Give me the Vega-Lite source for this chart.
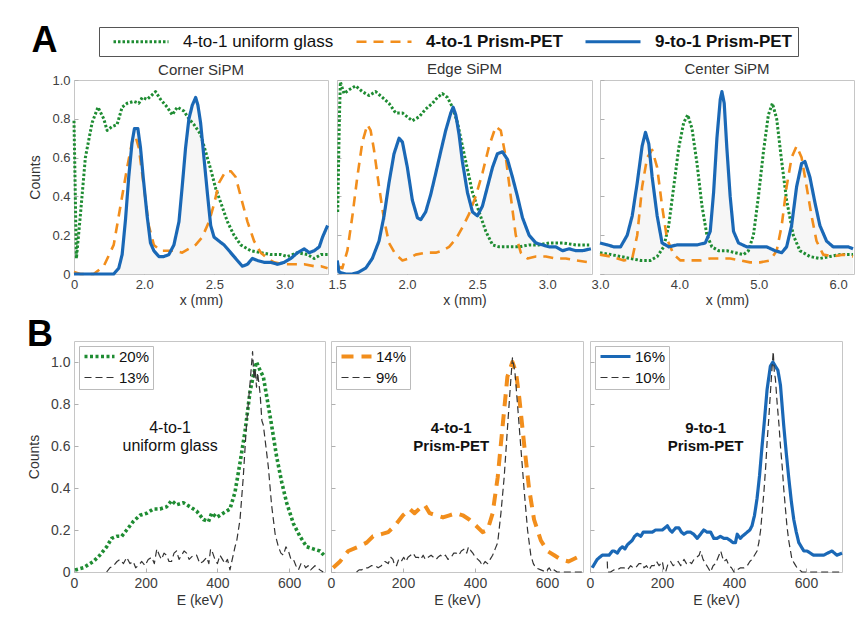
{
"$schema": "https://vega.github.io/schema/vega-lite/v6.json",
"background": "white",
"padding": {"left": 27, "top": 22, "right": 4, "bottom": 4},
"columns": 1,
"spacing": 8,
"config": {
  "font": "Liberation Sans",
  "view": {"stroke": "#c6c6c6"},
  "axis": {"grid": false, "domain": false, "tickColor": "#b0b0b0", "tickSize": -4, "labelColor": "#404040", "labelFontSize": 13, "titleFontSize": 14, "titleFontWeight": "normal", "titleColor": "#333333", "labelPadding": 8, "labelFlush": false, "labelOverlap": false},
  "title": {"fontSize": 15, "fontWeight": "normal", "color": "#333333", "offset": 3},
  "legend": {"title": null, "labelColor": "#111111", "labelLimit": 300},
  "line": {"strokeCap": "butt", "strokeJoin": "round"}
},
"resolve": {"scale": {"color": "independent", "strokeDash": "independent", "strokeWidth": "independent", "x": "independent", "y": "independent"}, "legend": {"color": "independent", "strokeDash": "independent", "strokeWidth": "independent"}, "axis": {"x": "independent", "y": "independent"}},
"datasets": {
"top": [
{"p":"corner","s":"4-to-1 uniform glass","x":1.500,"y":0.79},{"p":"corner","s":"4-to-1 uniform glass","x":1.507,"y":0.5},{"p":"corner","s":"4-to-1 uniform glass","x":1.517,"y":0.08},{"p":"corner","s":"4-to-1 uniform glass","x":1.545,"y":0.3},{"p":"corner","s":"4-to-1 uniform glass","x":1.581,"y":0.6},{"p":"corner","s":"4-to-1 uniform glass","x":1.629,"y":0.78},{"p":"corner","s":"4-to-1 uniform glass","x":1.671,"y":0.86},{"p":"corner","s":"4-to-1 uniform glass","x":1.712,"y":0.80},{"p":"corner","s":"4-to-1 uniform glass","x":1.736,"y":0.74},{"p":"corner","s":"4-to-1 uniform glass","x":1.771,"y":0.76},{"p":"corner","s":"4-to-1 uniform glass","x":1.807,"y":0.77},{"p":"corner","s":"4-to-1 uniform glass","x":1.843,"y":0.86},{"p":"corner","s":"4-to-1 uniform glass","x":1.879,"y":0.88},{"p":"corner","s":"4-to-1 uniform glass","x":1.926,"y":0.89},{"p":"corner","s":"4-to-1 uniform glass","x":1.962,"y":0.88},{"p":"corner","s":"4-to-1 uniform glass","x":1.986,"y":0.91},{"p":"corner","s":"4-to-1 uniform glass","x":2.021,"y":0.90},{"p":"corner","s":"4-to-1 uniform glass","x":2.081,"y":0.94},{"p":"corner","s":"4-to-1 uniform glass","x":2.117,"y":0.90},{"p":"corner","s":"4-to-1 uniform glass","x":2.164,"y":0.86},{"p":"corner","s":"4-to-1 uniform glass","x":2.200,"y":0.82},{"p":"corner","s":"4-to-1 uniform glass","x":2.236,"y":0.86},{"p":"corner","s":"4-to-1 uniform glass","x":2.283,"y":0.84},{"p":"corner","s":"4-to-1 uniform glass","x":2.319,"y":0.80},{"p":"corner","s":"4-to-1 uniform glass","x":2.355,"y":0.77},{"p":"corner","s":"4-to-1 uniform glass","x":2.402,"y":0.72},{"p":"corner","s":"4-to-1 uniform glass","x":2.438,"y":0.63},{"p":"corner","s":"4-to-1 uniform glass","x":2.474,"y":0.54},{"p":"corner","s":"4-to-1 uniform glass","x":2.510,"y":0.44},{"p":"corner","s":"4-to-1 uniform glass","x":2.545,"y":0.37},{"p":"corner","s":"4-to-1 uniform glass","x":2.593,"y":0.27},{"p":"corner","s":"4-to-1 uniform glass","x":2.640,"y":0.20},{"p":"corner","s":"4-to-1 uniform glass","x":2.688,"y":0.15},{"p":"corner","s":"4-to-1 uniform glass","x":2.760,"y":0.12},{"p":"corner","s":"4-to-1 uniform glass","x":2.831,"y":0.11},{"p":"corner","s":"4-to-1 uniform glass","x":2.902,"y":0.10},{"p":"corner","s":"4-to-1 uniform glass","x":2.974,"y":0.10},{"p":"corner","s":"4-to-1 uniform glass","x":3.021,"y":0.09},{"p":"corner","s":"4-to-1 uniform glass","x":3.093,"y":0.11},{"p":"corner","s":"4-to-1 uniform glass","x":3.164,"y":0.10},{"p":"corner","s":"4-to-1 uniform glass","x":3.212,"y":0.08},{"p":"corner","s":"4-to-1 uniform glass","x":3.260,"y":0.10},{"p":"corner","s":"4-to-1 uniform glass","x":3.307,"y":0.10},
{"p":"corner","s":"4-to-1 Prism-PET","x":1.500,"y":0.01},{"p":"corner","s":"4-to-1 Prism-PET","x":1.545,"y":0.0},{"p":"corner","s":"4-to-1 Prism-PET","x":1.640,"y":0.0},{"p":"corner","s":"4-to-1 Prism-PET","x":1.712,"y":0.04},{"p":"corner","s":"4-to-1 Prism-PET","x":1.783,"y":0.15},{"p":"corner","s":"4-to-1 Prism-PET","x":1.831,"y":0.35},{"p":"corner","s":"4-to-1 Prism-PET","x":1.879,"y":0.55},{"p":"corner","s":"4-to-1 Prism-PET","x":1.914,"y":0.68},{"p":"corner","s":"4-to-1 Prism-PET","x":1.938,"y":0.71},{"p":"corner","s":"4-to-1 Prism-PET","x":1.962,"y":0.65},{"p":"corner","s":"4-to-1 Prism-PET","x":1.998,"y":0.45},{"p":"corner","s":"4-to-1 Prism-PET","x":2.033,"y":0.25},{"p":"corner","s":"4-to-1 Prism-PET","x":2.069,"y":0.15},{"p":"corner","s":"4-to-1 Prism-PET","x":2.117,"y":0.12},{"p":"corner","s":"4-to-1 Prism-PET","x":2.164,"y":0.12},{"p":"corner","s":"4-to-1 Prism-PET","x":2.212,"y":0.12},{"p":"corner","s":"4-to-1 Prism-PET","x":2.271,"y":0.11},{"p":"corner","s":"4-to-1 Prism-PET","x":2.319,"y":0.13},{"p":"corner","s":"4-to-1 Prism-PET","x":2.367,"y":0.15},{"p":"corner","s":"4-to-1 Prism-PET","x":2.414,"y":0.19},{"p":"corner","s":"4-to-1 Prism-PET","x":2.462,"y":0.27},{"p":"corner","s":"4-to-1 Prism-PET","x":2.498,"y":0.36},{"p":"corner","s":"4-to-1 Prism-PET","x":2.533,"y":0.47},{"p":"corner","s":"4-to-1 Prism-PET","x":2.581,"y":0.53},{"p":"corner","s":"4-to-1 Prism-PET","x":2.617,"y":0.53},{"p":"corner","s":"4-to-1 Prism-PET","x":2.652,"y":0.50},{"p":"corner","s":"4-to-1 Prism-PET","x":2.688,"y":0.40},{"p":"corner","s":"4-to-1 Prism-PET","x":2.736,"y":0.27},{"p":"corner","s":"4-to-1 Prism-PET","x":2.783,"y":0.17},{"p":"corner","s":"4-to-1 Prism-PET","x":2.831,"y":0.11},{"p":"corner","s":"4-to-1 Prism-PET","x":2.879,"y":0.08},{"p":"corner","s":"4-to-1 Prism-PET","x":2.926,"y":0.06},{"p":"corner","s":"4-to-1 Prism-PET","x":2.998,"y":0.05},{"p":"corner","s":"4-to-1 Prism-PET","x":3.069,"y":0.05},{"p":"corner","s":"4-to-1 Prism-PET","x":3.140,"y":0.05},{"p":"corner","s":"4-to-1 Prism-PET","x":3.212,"y":0.04},{"p":"corner","s":"4-to-1 Prism-PET","x":3.260,"y":0.04},{"p":"corner","s":"4-to-1 Prism-PET","x":3.307,"y":0.03},
{"p":"corner","s":"9-to-1 Prism-PET","x":1.500,"y":0.0},{"p":"corner","s":"9-to-1 Prism-PET","x":1.783,"y":0.0},{"p":"corner","s":"9-to-1 Prism-PET","x":1.819,"y":0.03},{"p":"corner","s":"9-to-1 Prism-PET","x":1.843,"y":0.10},{"p":"corner","s":"9-to-1 Prism-PET","x":1.867,"y":0.28},{"p":"corner","s":"9-to-1 Prism-PET","x":1.890,"y":0.50},{"p":"corner","s":"9-to-1 Prism-PET","x":1.914,"y":0.68},{"p":"corner","s":"9-to-1 Prism-PET","x":1.931,"y":0.75},{"p":"corner","s":"9-to-1 Prism-PET","x":1.955,"y":0.75},{"p":"corner","s":"9-to-1 Prism-PET","x":1.974,"y":0.65},{"p":"corner","s":"9-to-1 Prism-PET","x":1.993,"y":0.50},{"p":"corner","s":"9-to-1 Prism-PET","x":2.021,"y":0.30},{"p":"corner","s":"9-to-1 Prism-PET","x":2.045,"y":0.16},{"p":"corner","s":"9-to-1 Prism-PET","x":2.069,"y":0.12},{"p":"corner","s":"9-to-1 Prism-PET","x":2.105,"y":0.09},{"p":"corner","s":"9-to-1 Prism-PET","x":2.140,"y":0.09},{"p":"corner","s":"9-to-1 Prism-PET","x":2.176,"y":0.10},{"p":"corner","s":"9-to-1 Prism-PET","x":2.212,"y":0.15},{"p":"corner","s":"9-to-1 Prism-PET","x":2.248,"y":0.27},{"p":"corner","s":"9-to-1 Prism-PET","x":2.271,"y":0.45},{"p":"corner","s":"9-to-1 Prism-PET","x":2.295,"y":0.65},{"p":"corner","s":"9-to-1 Prism-PET","x":2.319,"y":0.80},{"p":"corner","s":"9-to-1 Prism-PET","x":2.343,"y":0.87},{"p":"corner","s":"9-to-1 Prism-PET","x":2.367,"y":0.91},{"p":"corner","s":"9-to-1 Prism-PET","x":2.383,"y":0.87},{"p":"corner","s":"9-to-1 Prism-PET","x":2.402,"y":0.78},{"p":"corner","s":"9-to-1 Prism-PET","x":2.426,"y":0.60},{"p":"corner","s":"9-to-1 Prism-PET","x":2.450,"y":0.42},{"p":"corner","s":"9-to-1 Prism-PET","x":2.474,"y":0.25},{"p":"corner","s":"9-to-1 Prism-PET","x":2.498,"y":0.19},{"p":"corner","s":"9-to-1 Prism-PET","x":2.533,"y":0.17},{"p":"corner","s":"9-to-1 Prism-PET","x":2.569,"y":0.15},{"p":"corner","s":"9-to-1 Prism-PET","x":2.605,"y":0.12},{"p":"corner","s":"9-to-1 Prism-PET","x":2.640,"y":0.09},{"p":"corner","s":"9-to-1 Prism-PET","x":2.676,"y":0.06},{"p":"corner","s":"9-to-1 Prism-PET","x":2.700,"y":0.04},{"p":"corner","s":"9-to-1 Prism-PET","x":2.736,"y":0.05},{"p":"corner","s":"9-to-1 Prism-PET","x":2.771,"y":0.08},{"p":"corner","s":"9-to-1 Prism-PET","x":2.807,"y":0.07},{"p":"corner","s":"9-to-1 Prism-PET","x":2.855,"y":0.06},{"p":"corner","s":"9-to-1 Prism-PET","x":2.902,"y":0.06},{"p":"corner","s":"9-to-1 Prism-PET","x":2.950,"y":0.05},{"p":"corner","s":"9-to-1 Prism-PET","x":2.998,"y":0.06},{"p":"corner","s":"9-to-1 Prism-PET","x":3.045,"y":0.08},{"p":"corner","s":"9-to-1 Prism-PET","x":3.093,"y":0.11},{"p":"corner","s":"9-to-1 Prism-PET","x":3.140,"y":0.13},{"p":"corner","s":"9-to-1 Prism-PET","x":3.176,"y":0.11},{"p":"corner","s":"9-to-1 Prism-PET","x":3.212,"y":0.12},{"p":"corner","s":"9-to-1 Prism-PET","x":3.248,"y":0.14},{"p":"corner","s":"9-to-1 Prism-PET","x":3.271,"y":0.19},{"p":"corner","s":"9-to-1 Prism-PET","x":3.307,"y":0.25},
{"p":"edge","s":"4-to-1 uniform glass","x":1.505,"y":0.32},{"p":"edge","s":"4-to-1 uniform glass","x":1.517,"y":0.80},{"p":"edge","s":"4-to-1 uniform glass","x":1.524,"y":0.99},{"p":"edge","s":"4-to-1 uniform glass","x":1.550,"y":0.93},{"p":"edge","s":"4-to-1 uniform glass","x":1.586,"y":0.95},{"p":"edge","s":"4-to-1 uniform glass","x":1.633,"y":0.97},{"p":"edge","s":"4-to-1 uniform glass","x":1.681,"y":0.94},{"p":"edge","s":"4-to-1 uniform glass","x":1.729,"y":0.92},{"p":"edge","s":"4-to-1 uniform glass","x":1.776,"y":0.94},{"p":"edge","s":"4-to-1 uniform glass","x":1.824,"y":0.91},{"p":"edge","s":"4-to-1 uniform glass","x":1.871,"y":0.88},{"p":"edge","s":"4-to-1 uniform glass","x":1.919,"y":0.83},{"p":"edge","s":"4-to-1 uniform glass","x":1.967,"y":0.83},{"p":"edge","s":"4-to-1 uniform glass","x":2.002,"y":0.81},{"p":"edge","s":"4-to-1 uniform glass","x":2.038,"y":0.79},{"p":"edge","s":"4-to-1 uniform glass","x":2.086,"y":0.81},{"p":"edge","s":"4-to-1 uniform glass","x":2.133,"y":0.85},{"p":"edge","s":"4-to-1 uniform glass","x":2.181,"y":0.88},{"p":"edge","s":"4-to-1 uniform glass","x":2.217,"y":0.91},{"p":"edge","s":"4-to-1 uniform glass","x":2.252,"y":0.93},{"p":"edge","s":"4-to-1 uniform glass","x":2.288,"y":0.91},{"p":"edge","s":"4-to-1 uniform glass","x":2.324,"y":0.86},{"p":"edge","s":"4-to-1 uniform glass","x":2.360,"y":0.78},{"p":"edge","s":"4-to-1 uniform glass","x":2.395,"y":0.66},{"p":"edge","s":"4-to-1 uniform glass","x":2.431,"y":0.54},{"p":"edge","s":"4-to-1 uniform glass","x":2.467,"y":0.42},{"p":"edge","s":"4-to-1 uniform glass","x":2.514,"y":0.32},{"p":"edge","s":"4-to-1 uniform glass","x":2.562,"y":0.22},{"p":"edge","s":"4-to-1 uniform glass","x":2.610,"y":0.15},{"p":"edge","s":"4-to-1 uniform glass","x":2.657,"y":0.14},{"p":"edge","s":"4-to-1 uniform glass","x":2.729,"y":0.14},{"p":"edge","s":"4-to-1 uniform glass","x":2.800,"y":0.14},{"p":"edge","s":"4-to-1 uniform glass","x":2.871,"y":0.15},{"p":"edge","s":"4-to-1 uniform glass","x":2.943,"y":0.15},{"p":"edge","s":"4-to-1 uniform glass","x":3.014,"y":0.16},{"p":"edge","s":"4-to-1 uniform glass","x":3.110,"y":0.16},{"p":"edge","s":"4-to-1 uniform glass","x":3.205,"y":0.15},{"p":"edge","s":"4-to-1 uniform glass","x":3.300,"y":0.15},
{"p":"edge","s":"4-to-1 Prism-PET","x":1.505,"y":0.04},{"p":"edge","s":"4-to-1 Prism-PET","x":1.538,"y":0.03},{"p":"edge","s":"4-to-1 Prism-PET","x":1.574,"y":0.12},{"p":"edge","s":"4-to-1 Prism-PET","x":1.610,"y":0.30},{"p":"edge","s":"4-to-1 Prism-PET","x":1.645,"y":0.50},{"p":"edge","s":"4-to-1 Prism-PET","x":1.681,"y":0.68},{"p":"edge","s":"4-to-1 Prism-PET","x":1.717,"y":0.77},{"p":"edge","s":"4-to-1 Prism-PET","x":1.740,"y":0.74},{"p":"edge","s":"4-to-1 Prism-PET","x":1.764,"y":0.64},{"p":"edge","s":"4-to-1 Prism-PET","x":1.800,"y":0.45},{"p":"edge","s":"4-to-1 Prism-PET","x":1.836,"y":0.28},{"p":"edge","s":"4-to-1 Prism-PET","x":1.871,"y":0.16},{"p":"edge","s":"4-to-1 Prism-PET","x":1.919,"y":0.10},{"p":"edge","s":"4-to-1 Prism-PET","x":1.967,"y":0.07},{"p":"edge","s":"4-to-1 Prism-PET","x":2.014,"y":0.08},{"p":"edge","s":"4-to-1 Prism-PET","x":2.062,"y":0.10},{"p":"edge","s":"4-to-1 Prism-PET","x":2.133,"y":0.11},{"p":"edge","s":"4-to-1 Prism-PET","x":2.205,"y":0.11},{"p":"edge","s":"4-to-1 Prism-PET","x":2.252,"y":0.12},{"p":"edge","s":"4-to-1 Prism-PET","x":2.300,"y":0.14},{"p":"edge","s":"4-to-1 Prism-PET","x":2.348,"y":0.18},{"p":"edge","s":"4-to-1 Prism-PET","x":2.395,"y":0.24},{"p":"edge","s":"4-to-1 Prism-PET","x":2.443,"y":0.31},{"p":"edge","s":"4-to-1 Prism-PET","x":2.490,"y":0.40},{"p":"edge","s":"4-to-1 Prism-PET","x":2.538,"y":0.52},{"p":"edge","s":"4-to-1 Prism-PET","x":2.586,"y":0.66},{"p":"edge","s":"4-to-1 Prism-PET","x":2.633,"y":0.76},{"p":"edge","s":"4-to-1 Prism-PET","x":2.669,"y":0.74},{"p":"edge","s":"4-to-1 Prism-PET","x":2.705,"y":0.60},{"p":"edge","s":"4-to-1 Prism-PET","x":2.740,"y":0.40},{"p":"edge","s":"4-to-1 Prism-PET","x":2.776,"y":0.20},{"p":"edge","s":"4-to-1 Prism-PET","x":2.812,"y":0.11},{"p":"edge","s":"4-to-1 Prism-PET","x":2.860,"y":0.08},{"p":"edge","s":"4-to-1 Prism-PET","x":2.919,"y":0.09},{"p":"edge","s":"4-to-1 Prism-PET","x":2.990,"y":0.09},{"p":"edge","s":"4-to-1 Prism-PET","x":3.062,"y":0.08},{"p":"edge","s":"4-to-1 Prism-PET","x":3.133,"y":0.08},{"p":"edge","s":"4-to-1 Prism-PET","x":3.205,"y":0.07},{"p":"edge","s":"4-to-1 Prism-PET","x":3.300,"y":0.06},
{"p":"edge","s":"9-to-1 Prism-PET","x":1.502,"y":0.07},{"p":"edge","s":"9-to-1 Prism-PET","x":1.514,"y":0.01},{"p":"edge","s":"9-to-1 Prism-PET","x":1.562,"y":0.0},{"p":"edge","s":"9-to-1 Prism-PET","x":1.610,"y":0.0},{"p":"edge","s":"9-to-1 Prism-PET","x":1.657,"y":0.01},{"p":"edge","s":"9-to-1 Prism-PET","x":1.705,"y":0.03},{"p":"edge","s":"9-to-1 Prism-PET","x":1.752,"y":0.08},{"p":"edge","s":"9-to-1 Prism-PET","x":1.800,"y":0.17},{"p":"edge","s":"9-to-1 Prism-PET","x":1.836,"y":0.30},{"p":"edge","s":"9-to-1 Prism-PET","x":1.871,"y":0.47},{"p":"edge","s":"9-to-1 Prism-PET","x":1.907,"y":0.62},{"p":"edge","s":"9-to-1 Prism-PET","x":1.943,"y":0.70},{"p":"edge","s":"9-to-1 Prism-PET","x":1.967,"y":0.68},{"p":"edge","s":"9-to-1 Prism-PET","x":2.002,"y":0.55},{"p":"edge","s":"9-to-1 Prism-PET","x":2.038,"y":0.38},{"p":"edge","s":"9-to-1 Prism-PET","x":2.074,"y":0.29},{"p":"edge","s":"9-to-1 Prism-PET","x":2.098,"y":0.28},{"p":"edge","s":"9-to-1 Prism-PET","x":2.133,"y":0.32},{"p":"edge","s":"9-to-1 Prism-PET","x":2.169,"y":0.41},{"p":"edge","s":"9-to-1 Prism-PET","x":2.205,"y":0.52},{"p":"edge","s":"9-to-1 Prism-PET","x":2.240,"y":0.63},{"p":"edge","s":"9-to-1 Prism-PET","x":2.276,"y":0.74},{"p":"edge","s":"9-to-1 Prism-PET","x":2.312,"y":0.83},{"p":"edge","s":"9-to-1 Prism-PET","x":2.329,"y":0.86},{"p":"edge","s":"9-to-1 Prism-PET","x":2.348,"y":0.82},{"p":"edge","s":"9-to-1 Prism-PET","x":2.371,"y":0.72},{"p":"edge","s":"9-to-1 Prism-PET","x":2.395,"y":0.58},{"p":"edge","s":"9-to-1 Prism-PET","x":2.431,"y":0.42},{"p":"edge","s":"9-to-1 Prism-PET","x":2.467,"y":0.32},{"p":"edge","s":"9-to-1 Prism-PET","x":2.502,"y":0.30},{"p":"edge","s":"9-to-1 Prism-PET","x":2.538,"y":0.35},{"p":"edge","s":"9-to-1 Prism-PET","x":2.574,"y":0.45},{"p":"edge","s":"9-to-1 Prism-PET","x":2.610,"y":0.55},{"p":"edge","s":"9-to-1 Prism-PET","x":2.645,"y":0.62},{"p":"edge","s":"9-to-1 Prism-PET","x":2.681,"y":0.63},{"p":"edge","s":"9-to-1 Prism-PET","x":2.717,"y":0.59},{"p":"edge","s":"9-to-1 Prism-PET","x":2.752,"y":0.50},{"p":"edge","s":"9-to-1 Prism-PET","x":2.788,"y":0.40},{"p":"edge","s":"9-to-1 Prism-PET","x":2.824,"y":0.29},{"p":"edge","s":"9-to-1 Prism-PET","x":2.871,"y":0.20},{"p":"edge","s":"9-to-1 Prism-PET","x":2.919,"y":0.16},{"p":"edge","s":"9-to-1 Prism-PET","x":2.967,"y":0.15},{"p":"edge","s":"9-to-1 Prism-PET","x":3.014,"y":0.14},{"p":"edge","s":"9-to-1 Prism-PET","x":3.062,"y":0.14},{"p":"edge","s":"9-to-1 Prism-PET","x":3.110,"y":0.12},{"p":"edge","s":"9-to-1 Prism-PET","x":3.157,"y":0.13},{"p":"edge","s":"9-to-1 Prism-PET","x":3.205,"y":0.12},{"p":"edge","s":"9-to-1 Prism-PET","x":3.252,"y":0.12},{"p":"edge","s":"9-to-1 Prism-PET","x":3.312,"y":0.13},
{"p":"center","s":"4-to-1 uniform glass","x":3.000,"y":0.11},{"p":"center","s":"4-to-1 uniform glass","x":3.134,"y":0.10},{"p":"center","s":"4-to-1 uniform glass","x":3.259,"y":0.09},{"p":"center","s":"4-to-1 uniform glass","x":3.385,"y":0.08},{"p":"center","s":"4-to-1 uniform glass","x":3.510,"y":0.07},{"p":"center","s":"4-to-1 uniform glass","x":3.636,"y":0.07},{"p":"center","s":"4-to-1 uniform glass","x":3.720,"y":0.09},{"p":"center","s":"4-to-1 uniform glass","x":3.803,"y":0.14},{"p":"center","s":"4-to-1 uniform glass","x":3.866,"y":0.25},{"p":"center","s":"4-to-1 uniform glass","x":3.929,"y":0.45},{"p":"center","s":"4-to-1 uniform glass","x":3.992,"y":0.65},{"p":"center","s":"4-to-1 uniform glass","x":4.054,"y":0.78},{"p":"center","s":"4-to-1 uniform glass","x":4.105,"y":0.82},{"p":"center","s":"4-to-1 uniform glass","x":4.159,"y":0.75},{"p":"center","s":"4-to-1 uniform glass","x":4.222,"y":0.57},{"p":"center","s":"4-to-1 uniform glass","x":4.285,"y":0.35},{"p":"center","s":"4-to-1 uniform glass","x":4.347,"y":0.20},{"p":"center","s":"4-to-1 uniform glass","x":4.410,"y":0.14},{"p":"center","s":"4-to-1 uniform glass","x":4.494,"y":0.12},{"p":"center","s":"4-to-1 uniform glass","x":4.598,"y":0.12},{"p":"center","s":"4-to-1 uniform glass","x":4.703,"y":0.11},{"p":"center","s":"4-to-1 uniform glass","x":4.808,"y":0.10},{"p":"center","s":"4-to-1 uniform glass","x":4.870,"y":0.12},{"p":"center","s":"4-to-1 uniform glass","x":4.933,"y":0.20},{"p":"center","s":"4-to-1 uniform glass","x":4.996,"y":0.40},{"p":"center","s":"4-to-1 uniform glass","x":5.059,"y":0.63},{"p":"center","s":"4-to-1 uniform glass","x":5.121,"y":0.82},{"p":"center","s":"4-to-1 uniform glass","x":5.172,"y":0.88},{"p":"center","s":"4-to-1 uniform glass","x":5.226,"y":0.80},{"p":"center","s":"4-to-1 uniform glass","x":5.289,"y":0.58},{"p":"center","s":"4-to-1 uniform glass","x":5.351,"y":0.38},{"p":"center","s":"4-to-1 uniform glass","x":5.435,"y":0.20},{"p":"center","s":"4-to-1 uniform glass","x":5.519,"y":0.12},{"p":"center","s":"4-to-1 uniform glass","x":5.644,"y":0.09},{"p":"center","s":"4-to-1 uniform glass","x":5.770,"y":0.08},{"p":"center","s":"4-to-1 uniform glass","x":5.895,"y":0.09},{"p":"center","s":"4-to-1 uniform glass","x":6.021,"y":0.10},{"p":"center","s":"4-to-1 uniform glass","x":6.188,"y":0.10},
{"p":"center","s":"4-to-1 Prism-PET","x":3.000,"y":0.10},{"p":"center","s":"4-to-1 Prism-PET","x":3.134,"y":0.09},{"p":"center","s":"4-to-1 Prism-PET","x":3.301,"y":0.07},{"p":"center","s":"4-to-1 Prism-PET","x":3.406,"y":0.08},{"p":"center","s":"4-to-1 Prism-PET","x":3.469,"y":0.20},{"p":"center","s":"4-to-1 Prism-PET","x":3.531,"y":0.45},{"p":"center","s":"4-to-1 Prism-PET","x":3.594,"y":0.60},{"p":"center","s":"4-to-1 Prism-PET","x":3.657,"y":0.64},{"p":"center","s":"4-to-1 Prism-PET","x":3.720,"y":0.55},{"p":"center","s":"4-to-1 Prism-PET","x":3.782,"y":0.35},{"p":"center","s":"4-to-1 Prism-PET","x":3.845,"y":0.18},{"p":"center","s":"4-to-1 Prism-PET","x":3.929,"y":0.10},{"p":"center","s":"4-to-1 Prism-PET","x":4.013,"y":0.07},{"p":"center","s":"4-to-1 Prism-PET","x":4.138,"y":0.07},{"p":"center","s":"4-to-1 Prism-PET","x":4.264,"y":0.07},{"p":"center","s":"4-to-1 Prism-PET","x":4.389,"y":0.08},{"p":"center","s":"4-to-1 Prism-PET","x":4.515,"y":0.08},{"p":"center","s":"4-to-1 Prism-PET","x":4.640,"y":0.08},{"p":"center","s":"4-to-1 Prism-PET","x":4.766,"y":0.07},{"p":"center","s":"4-to-1 Prism-PET","x":4.891,"y":0.06},{"p":"center","s":"4-to-1 Prism-PET","x":5.017,"y":0.06},{"p":"center","s":"4-to-1 Prism-PET","x":5.142,"y":0.07},{"p":"center","s":"4-to-1 Prism-PET","x":5.226,"y":0.12},{"p":"center","s":"4-to-1 Prism-PET","x":5.289,"y":0.25},{"p":"center","s":"4-to-1 Prism-PET","x":5.351,"y":0.45},{"p":"center","s":"4-to-1 Prism-PET","x":5.414,"y":0.60},{"p":"center","s":"4-to-1 Prism-PET","x":5.477,"y":0.66},{"p":"center","s":"4-to-1 Prism-PET","x":5.540,"y":0.60},{"p":"center","s":"4-to-1 Prism-PET","x":5.603,"y":0.45},{"p":"center","s":"4-to-1 Prism-PET","x":5.665,"y":0.30},{"p":"center","s":"4-to-1 Prism-PET","x":5.728,"y":0.17},{"p":"center","s":"4-to-1 Prism-PET","x":5.812,"y":0.10},{"p":"center","s":"4-to-1 Prism-PET","x":5.937,"y":0.09},{"p":"center","s":"4-to-1 Prism-PET","x":6.063,"y":0.10},{"p":"center","s":"4-to-1 Prism-PET","x":6.188,"y":0.09},
{"p":"center","s":"9-to-1 Prism-PET","x":3.000,"y":0.16},{"p":"center","s":"9-to-1 Prism-PET","x":3.092,"y":0.15},{"p":"center","s":"9-to-1 Prism-PET","x":3.176,"y":0.14},{"p":"center","s":"9-to-1 Prism-PET","x":3.259,"y":0.14},{"p":"center","s":"9-to-1 Prism-PET","x":3.343,"y":0.20},{"p":"center","s":"9-to-1 Prism-PET","x":3.406,"y":0.30},{"p":"center","s":"9-to-1 Prism-PET","x":3.469,"y":0.47},{"p":"center","s":"9-to-1 Prism-PET","x":3.531,"y":0.66},{"p":"center","s":"9-to-1 Prism-PET","x":3.573,"y":0.73},{"p":"center","s":"9-to-1 Prism-PET","x":3.615,"y":0.67},{"p":"center","s":"9-to-1 Prism-PET","x":3.657,"y":0.50},{"p":"center","s":"9-to-1 Prism-PET","x":3.720,"y":0.30},{"p":"center","s":"9-to-1 Prism-PET","x":3.782,"y":0.16},{"p":"center","s":"9-to-1 Prism-PET","x":3.866,"y":0.14},{"p":"center","s":"9-to-1 Prism-PET","x":3.971,"y":0.15},{"p":"center","s":"9-to-1 Prism-PET","x":4.096,"y":0.15},{"p":"center","s":"9-to-1 Prism-PET","x":4.222,"y":0.15},{"p":"center","s":"9-to-1 Prism-PET","x":4.326,"y":0.16},{"p":"center","s":"9-to-1 Prism-PET","x":4.389,"y":0.22},{"p":"center","s":"9-to-1 Prism-PET","x":4.431,"y":0.42},{"p":"center","s":"9-to-1 Prism-PET","x":4.473,"y":0.70},{"p":"center","s":"9-to-1 Prism-PET","x":4.515,"y":0.90},{"p":"center","s":"9-to-1 Prism-PET","x":4.536,"y":0.94},{"p":"center","s":"9-to-1 Prism-PET","x":4.565,"y":0.88},{"p":"center","s":"9-to-1 Prism-PET","x":4.598,"y":0.65},{"p":"center","s":"9-to-1 Prism-PET","x":4.640,"y":0.40},{"p":"center","s":"9-to-1 Prism-PET","x":4.682,"y":0.22},{"p":"center","s":"9-to-1 Prism-PET","x":4.745,"y":0.16},{"p":"center","s":"9-to-1 Prism-PET","x":4.849,"y":0.14},{"p":"center","s":"9-to-1 Prism-PET","x":4.975,"y":0.14},{"p":"center","s":"9-to-1 Prism-PET","x":5.100,"y":0.14},{"p":"center","s":"9-to-1 Prism-PET","x":5.205,"y":0.12},{"p":"center","s":"9-to-1 Prism-PET","x":5.289,"y":0.11},{"p":"center","s":"9-to-1 Prism-PET","x":5.351,"y":0.14},{"p":"center","s":"9-to-1 Prism-PET","x":5.414,"y":0.25},{"p":"center","s":"9-to-1 Prism-PET","x":5.477,"y":0.45},{"p":"center","s":"9-to-1 Prism-PET","x":5.540,"y":0.57},{"p":"center","s":"9-to-1 Prism-PET","x":5.582,"y":0.58},{"p":"center","s":"9-to-1 Prism-PET","x":5.644,"y":0.50},{"p":"center","s":"9-to-1 Prism-PET","x":5.707,"y":0.37},{"p":"center","s":"9-to-1 Prism-PET","x":5.770,"y":0.25},{"p":"center","s":"9-to-1 Prism-PET","x":5.854,"y":0.17},{"p":"center","s":"9-to-1 Prism-PET","x":5.937,"y":0.14},{"p":"center","s":"9-to-1 Prism-PET","x":6.042,"y":0.14},{"p":"center","s":"9-to-1 Prism-PET","x":6.126,"y":0.14},{"p":"center","s":"9-to-1 Prism-PET","x":6.188,"y":0.13}
],
"bottom": [
{"p":"b1","s":"20%","E":3,"y":0.01},{"p":"b1","s":"20%","E":26,"y":0.02},{"p":"b1","s":"20%","E":54,"y":0.05},{"p":"b1","s":"20%","E":72,"y":0.08},{"p":"b1","s":"20%","E":91,"y":0.12},{"p":"b1","s":"20%","E":105,"y":0.16},{"p":"b1","s":"20%","E":119,"y":0.17},{"p":"b1","s":"20%","E":133,"y":0.17},{"p":"b1","s":"20%","E":147,"y":0.2},{"p":"b1","s":"20%","E":165,"y":0.24},{"p":"b1","s":"20%","E":184,"y":0.27},{"p":"b1","s":"20%","E":203,"y":0.28},{"p":"b1","s":"20%","E":221,"y":0.3},{"p":"b1","s":"20%","E":240,"y":0.3},{"p":"b1","s":"20%","E":258,"y":0.31},{"p":"b1","s":"20%","E":272,"y":0.34},{"p":"b1","s":"20%","E":286,"y":0.32},{"p":"b1","s":"20%","E":305,"y":0.33},{"p":"b1","s":"20%","E":324,"y":0.31},{"p":"b1","s":"20%","E":342,"y":0.29},{"p":"b1","s":"20%","E":361,"y":0.25},{"p":"b1","s":"20%","E":375,"y":0.24},{"p":"b1","s":"20%","E":384,"y":0.28},{"p":"b1","s":"20%","E":398,"y":0.26},{"p":"b1","s":"20%","E":416,"y":0.28},{"p":"b1","s":"20%","E":435,"y":0.3},{"p":"b1","s":"20%","E":449,"y":0.38},{"p":"b1","s":"20%","E":463,"y":0.52},{"p":"b1","s":"20%","E":477,"y":0.67},{"p":"b1","s":"20%","E":491,"y":0.86},{"p":"b1","s":"20%","E":502,"y":0.95},{"p":"b1","s":"20%","E":509,"y":1.0},{"p":"b1","s":"20%","E":519,"y":0.96},{"p":"b1","s":"20%","E":528,"y":0.93},{"p":"b1","s":"20%","E":537,"y":0.84},{"p":"b1","s":"20%","E":551,"y":0.7},{"p":"b1","s":"20%","E":565,"y":0.55},{"p":"b1","s":"20%","E":579,"y":0.43},{"p":"b1","s":"20%","E":593,"y":0.33},{"p":"b1","s":"20%","E":612,"y":0.23},{"p":"b1","s":"20%","E":630,"y":0.17},{"p":"b1","s":"20%","E":649,"y":0.12},{"p":"b1","s":"20%","E":667,"y":0.11},{"p":"b1","s":"20%","E":686,"y":0.1},{"p":"b1","s":"20%","E":697,"y":0.08},
{"p":"b1","s":"13%","E":91,"y":0.0},{"p":"b1","s":"13%","E":100,"y":0.02},{"p":"b1","s":"13%","E":110,"y":0.03},{"p":"b1","s":"13%","E":120,"y":0.05},{"p":"b1","s":"13%","E":128,"y":0.06},{"p":"b1","s":"13%","E":138,"y":0.04},{"p":"b1","s":"13%","E":147,"y":0.07},{"p":"b1","s":"13%","E":156,"y":0.04},{"p":"b1","s":"13%","E":165,"y":0.05},{"p":"b1","s":"13%","E":172,"y":0.02},{"p":"b1","s":"13%","E":179,"y":0.03},{"p":"b1","s":"13%","E":189,"y":0.05},{"p":"b1","s":"13%","E":198,"y":0.03},{"p":"b1","s":"13%","E":207,"y":0.06},{"p":"b1","s":"13%","E":217,"y":0.07},{"p":"b1","s":"13%","E":224,"y":0.04},{"p":"b1","s":"13%","E":231,"y":0.11},{"p":"b1","s":"13%","E":238,"y":0.08},{"p":"b1","s":"13%","E":244,"y":0.06},{"p":"b1","s":"13%","E":251,"y":0.09},{"p":"b1","s":"13%","E":258,"y":0.08},{"p":"b1","s":"13%","E":265,"y":0.05},{"p":"b1","s":"13%","E":272,"y":0.05},{"p":"b1","s":"13%","E":279,"y":0.09},{"p":"b1","s":"13%","E":286,"y":0.1},{"p":"b1","s":"13%","E":293,"y":0.06},{"p":"b1","s":"13%","E":300,"y":0.08},{"p":"b1","s":"13%","E":307,"y":0.1},{"p":"b1","s":"13%","E":314,"y":0.09},{"p":"b1","s":"13%","E":321,"y":0.06},{"p":"b1","s":"13%","E":333,"y":0.08},{"p":"b1","s":"13%","E":342,"y":0.08},{"p":"b1","s":"13%","E":351,"y":0.04},{"p":"b1","s":"13%","E":360,"y":0.05},{"p":"b1","s":"13%","E":370,"y":0.07},{"p":"b1","s":"13%","E":376,"y":0.04},{"p":"b1","s":"13%","E":381,"y":0.11},{"p":"b1","s":"13%","E":387,"y":0.09},{"p":"b1","s":"13%","E":393,"y":0.06},{"p":"b1","s":"13%","E":400,"y":0.04},{"p":"b1","s":"13%","E":407,"y":0.08},{"p":"b1","s":"13%","E":414,"y":0.06},{"p":"b1","s":"13%","E":421,"y":0.04},{"p":"b1","s":"13%","E":428,"y":0.06},{"p":"b1","s":"13%","E":435,"y":0.01},{"p":"b1","s":"13%","E":440,"y":0.05},{"p":"b1","s":"13%","E":444,"y":0.08},{"p":"b1","s":"13%","E":449,"y":0.12},{"p":"b1","s":"13%","E":454,"y":0.15},{"p":"b1","s":"13%","E":463,"y":0.25},{"p":"b1","s":"13%","E":472,"y":0.45},{"p":"b1","s":"13%","E":481,"y":0.7},{"p":"b1","s":"13%","E":491,"y":0.9},{"p":"b1","s":"13%","E":498,"y":1.05},{"p":"b1","s":"13%","E":502,"y":0.92},{"p":"b1","s":"13%","E":505,"y":0.97},{"p":"b1","s":"13%","E":509,"y":0.88},{"p":"b1","s":"13%","E":512,"y":0.95},{"p":"b1","s":"13%","E":519,"y":0.85},{"p":"b1","s":"13%","E":524,"y":0.72},{"p":"b1","s":"13%","E":528,"y":0.7},{"p":"b1","s":"13%","E":535,"y":0.6},{"p":"b1","s":"13%","E":542,"y":0.5},{"p":"b1","s":"13%","E":551,"y":0.32},{"p":"b1","s":"13%","E":561,"y":0.18},{"p":"b1","s":"13%","E":570,"y":0.12},{"p":"b1","s":"13%","E":577,"y":0.09},{"p":"b1","s":"13%","E":584,"y":0.08},{"p":"b1","s":"13%","E":591,"y":0.12},{"p":"b1","s":"13%","E":598,"y":0.1},{"p":"b1","s":"13%","E":605,"y":0.06},{"p":"b1","s":"13%","E":612,"y":0.06},{"p":"b1","s":"13%","E":619,"y":0.03},{"p":"b1","s":"13%","E":626,"y":0.01},{"p":"b1","s":"13%","E":633,"y":0.04},{"p":"b1","s":"13%","E":640,"y":0.04},{"p":"b1","s":"13%","E":646,"y":0.02},{"p":"b1","s":"13%","E":653,"y":0.03},{"p":"b1","s":"13%","E":660,"y":0.01},{"p":"b1","s":"13%","E":672,"y":0.03},{"p":"b1","s":"13%","E":679,"y":0.02},{"p":"b1","s":"13%","E":686,"y":0.01},{"p":"b1","s":"13%","E":695,"y":0.0},
{"p":"b2","s":"14%","E":6,"y":0.02},{"p":"b2","s":"14%","E":25,"y":0.05},{"p":"b2","s":"14%","E":48,"y":0.1},{"p":"b2","s":"14%","E":76,"y":0.12},{"p":"b2","s":"14%","E":99,"y":0.14},{"p":"b2","s":"14%","E":117,"y":0.17},{"p":"b2","s":"14%","E":140,"y":0.18},{"p":"b2","s":"14%","E":159,"y":0.19},{"p":"b2","s":"14%","E":177,"y":0.22},{"p":"b2","s":"14%","E":200,"y":0.27},{"p":"b2","s":"14%","E":219,"y":0.3},{"p":"b2","s":"14%","E":232,"y":0.28},{"p":"b2","s":"14%","E":251,"y":0.31},{"p":"b2","s":"14%","E":260,"y":0.32},{"p":"b2","s":"14%","E":274,"y":0.28},{"p":"b2","s":"14%","E":292,"y":0.27},{"p":"b2","s":"14%","E":311,"y":0.26},{"p":"b2","s":"14%","E":329,"y":0.27},{"p":"b2","s":"14%","E":348,"y":0.28},{"p":"b2","s":"14%","E":366,"y":0.27},{"p":"b2","s":"14%","E":384,"y":0.25},{"p":"b2","s":"14%","E":403,"y":0.22},{"p":"b2","s":"14%","E":421,"y":0.19},{"p":"b2","s":"14%","E":435,"y":0.2},{"p":"b2","s":"14%","E":449,"y":0.28},{"p":"b2","s":"14%","E":463,"y":0.45},{"p":"b2","s":"14%","E":477,"y":0.7},{"p":"b2","s":"14%","E":490,"y":0.93},{"p":"b2","s":"14%","E":504,"y":1.0},{"p":"b2","s":"14%","E":514,"y":0.95},{"p":"b2","s":"14%","E":523,"y":0.83},{"p":"b2","s":"14%","E":537,"y":0.6},{"p":"b2","s":"14%","E":550,"y":0.4},{"p":"b2","s":"14%","E":564,"y":0.25},{"p":"b2","s":"14%","E":583,"y":0.15},{"p":"b2","s":"14%","E":601,"y":0.1},{"p":"b2","s":"14%","E":620,"y":0.08},{"p":"b2","s":"14%","E":638,"y":0.06},{"p":"b2","s":"14%","E":660,"y":0.05},{"p":"b2","s":"14%","E":684,"y":0.07},{"p":"b2","s":"14%","E":700,"y":0.06},
{"p":"b2","s":"9%","E":71,"y":0.0},{"p":"b2","s":"9%","E":78,"y":0.01},{"p":"b2","s":"9%","E":85,"y":0.01},{"p":"b2","s":"9%","E":94,"y":0.02},{"p":"b2","s":"9%","E":103,"y":0.02},{"p":"b2","s":"9%","E":112,"y":0.03},{"p":"b2","s":"9%","E":122,"y":0.03},{"p":"b2","s":"9%","E":131,"y":0.02},{"p":"b2","s":"9%","E":140,"y":0.03},{"p":"b2","s":"9%","E":150,"y":0.05},{"p":"b2","s":"9%","E":159,"y":0.04},{"p":"b2","s":"9%","E":166,"y":0.07},{"p":"b2","s":"9%","E":172,"y":0.06},{"p":"b2","s":"9%","E":177,"y":0.03},{"p":"b2","s":"9%","E":182,"y":0.03},{"p":"b2","s":"9%","E":188,"y":0.06},{"p":"b2","s":"9%","E":195,"y":0.05},{"p":"b2","s":"9%","E":202,"y":0.07},{"p":"b2","s":"9%","E":208,"y":0.05},{"p":"b2","s":"9%","E":214,"y":0.07},{"p":"b2","s":"9%","E":221,"y":0.08},{"p":"b2","s":"9%","E":228,"y":0.09},{"p":"b2","s":"9%","E":235,"y":0.07},{"p":"b2","s":"9%","E":242,"y":0.07},{"p":"b2","s":"9%","E":249,"y":0.06},{"p":"b2","s":"9%","E":256,"y":0.08},{"p":"b2","s":"9%","E":262,"y":0.06},{"p":"b2","s":"9%","E":270,"y":0.07},{"p":"b2","s":"9%","E":278,"y":0.08},{"p":"b2","s":"9%","E":285,"y":0.07},{"p":"b2","s":"9%","E":292,"y":0.06},{"p":"b2","s":"9%","E":297,"y":0.07},{"p":"b2","s":"9%","E":304,"y":0.08},{"p":"b2","s":"9%","E":311,"y":0.07},{"p":"b2","s":"9%","E":318,"y":0.08},{"p":"b2","s":"9%","E":325,"y":0.06},{"p":"b2","s":"9%","E":334,"y":0.07},{"p":"b2","s":"9%","E":341,"y":0.09},{"p":"b2","s":"9%","E":348,"y":0.09},{"p":"b2","s":"9%","E":355,"y":0.08},{"p":"b2","s":"9%","E":362,"y":0.1},{"p":"b2","s":"9%","E":371,"y":0.11},{"p":"b2","s":"9%","E":377,"y":0.09},{"p":"b2","s":"9%","E":382,"y":0.12},{"p":"b2","s":"9%","E":389,"y":0.1},{"p":"b2","s":"9%","E":394,"y":0.09},{"p":"b2","s":"9%","E":401,"y":0.07},{"p":"b2","s":"9%","E":408,"y":0.06},{"p":"b2","s":"9%","E":414,"y":0.05},{"p":"b2","s":"9%","E":421,"y":0.03},{"p":"b2","s":"9%","E":428,"y":0.05},{"p":"b2","s":"9%","E":435,"y":0.04},{"p":"b2","s":"9%","E":442,"y":0.06},{"p":"b2","s":"9%","E":449,"y":0.08},{"p":"b2","s":"9%","E":456,"y":0.11},{"p":"b2","s":"9%","E":463,"y":0.14},{"p":"b2","s":"9%","E":472,"y":0.28},{"p":"b2","s":"9%","E":481,"y":0.45},{"p":"b2","s":"9%","E":490,"y":0.68},{"p":"b2","s":"9%","E":498,"y":0.88},{"p":"b2","s":"9%","E":504,"y":1.02},{"p":"b2","s":"9%","E":511,"y":0.95},{"p":"b2","s":"9%","E":518,"y":0.8},{"p":"b2","s":"9%","E":527,"y":0.6},{"p":"b2","s":"9%","E":537,"y":0.38},{"p":"b2","s":"9%","E":546,"y":0.2},{"p":"b2","s":"9%","E":555,"y":0.08},{"p":"b2","s":"9%","E":562,"y":0.04},{"p":"b2","s":"9%","E":569,"y":0.02},{"p":"b2","s":"9%","E":583,"y":0.01},{"p":"b2","s":"9%","E":597,"y":0.0},{"p":"b2","s":"9%","E":606,"y":0.02},{"p":"b2","s":"9%","E":613,"y":0.0},{"p":"b2","s":"9%","E":620,"y":0.01},{"p":"b2","s":"9%","E":628,"y":0.0},{"p":"b2","s":"9%","E":700,"y":0.0},
{"p":"b3","s":"16%","E":6,"y":0.02},{"p":"b3","s":"16%","E":20,"y":0.06},{"p":"b3","s":"16%","E":34,"y":0.08},{"p":"b3","s":"16%","E":53,"y":0.08},{"p":"b3","s":"16%","E":62,"y":0.1},{"p":"b3","s":"16%","E":67,"y":0.1},{"p":"b3","s":"16%","E":76,"y":0.09},{"p":"b3","s":"16%","E":83,"y":0.11},{"p":"b3","s":"16%","E":90,"y":0.12},{"p":"b3","s":"16%","E":97,"y":0.11},{"p":"b3","s":"16%","E":104,"y":0.13},{"p":"b3","s":"16%","E":117,"y":0.15},{"p":"b3","s":"16%","E":124,"y":0.17},{"p":"b3","s":"16%","E":131,"y":0.18},{"p":"b3","s":"16%","E":141,"y":0.17},{"p":"b3","s":"16%","E":148,"y":0.19},{"p":"b3","s":"16%","E":154,"y":0.19},{"p":"b3","s":"16%","E":173,"y":0.19},{"p":"b3","s":"16%","E":182,"y":0.2},{"p":"b3","s":"16%","E":191,"y":0.2},{"p":"b3","s":"16%","E":201,"y":0.2},{"p":"b3","s":"16%","E":208,"y":0.21},{"p":"b3","s":"16%","E":215,"y":0.22},{"p":"b3","s":"16%","E":222,"y":0.2},{"p":"b3","s":"16%","E":228,"y":0.19},{"p":"b3","s":"16%","E":238,"y":0.21},{"p":"b3","s":"16%","E":247,"y":0.21},{"p":"b3","s":"16%","E":254,"y":0.19},{"p":"b3","s":"16%","E":261,"y":0.18},{"p":"b3","s":"16%","E":270,"y":0.19},{"p":"b3","s":"16%","E":279,"y":0.19},{"p":"b3","s":"16%","E":288,"y":0.18},{"p":"b3","s":"16%","E":298,"y":0.16},{"p":"b3","s":"16%","E":307,"y":0.18},{"p":"b3","s":"16%","E":316,"y":0.2},{"p":"b3","s":"16%","E":325,"y":0.19},{"p":"b3","s":"16%","E":335,"y":0.19},{"p":"b3","s":"16%","E":344,"y":0.16},{"p":"b3","s":"16%","E":353,"y":0.16},{"p":"b3","s":"16%","E":362,"y":0.17},{"p":"b3","s":"16%","E":372,"y":0.16},{"p":"b3","s":"16%","E":381,"y":0.16},{"p":"b3","s":"16%","E":390,"y":0.15},{"p":"b3","s":"16%","E":397,"y":0.14},{"p":"b3","s":"16%","E":404,"y":0.14},{"p":"b3","s":"16%","E":409,"y":0.18},{"p":"b3","s":"16%","E":413,"y":0.17},{"p":"b3","s":"16%","E":418,"y":0.16},{"p":"b3","s":"16%","E":423,"y":0.17},{"p":"b3","s":"16%","E":430,"y":0.18},{"p":"b3","s":"16%","E":437,"y":0.19},{"p":"b3","s":"16%","E":444,"y":0.2},{"p":"b3","s":"16%","E":450,"y":0.22},{"p":"b3","s":"16%","E":457,"y":0.27},{"p":"b3","s":"16%","E":464,"y":0.35},{"p":"b3","s":"16%","E":471,"y":0.46},{"p":"b3","s":"16%","E":478,"y":0.6},{"p":"b3","s":"16%","E":485,"y":0.73},{"p":"b3","s":"16%","E":492,"y":0.87},{"p":"b3","s":"16%","E":501,"y":0.98},{"p":"b3","s":"16%","E":508,"y":1.0},{"p":"b3","s":"16%","E":515,"y":0.98},{"p":"b3","s":"16%","E":522,"y":0.96},{"p":"b3","s":"16%","E":529,"y":0.89},{"p":"b3","s":"16%","E":538,"y":0.7},{"p":"b3","s":"16%","E":545,"y":0.57},{"p":"b3","s":"16%","E":552,"y":0.45},{"p":"b3","s":"16%","E":559,"y":0.34},{"p":"b3","s":"16%","E":566,"y":0.25},{"p":"b3","s":"16%","E":573,"y":0.19},{"p":"b3","s":"16%","E":580,"y":0.14},{"p":"b3","s":"16%","E":587,"y":0.12},{"p":"b3","s":"16%","E":594,"y":0.1},{"p":"b3","s":"16%","E":603,"y":0.1},{"p":"b3","s":"16%","E":612,"y":0.09},{"p":"b3","s":"16%","E":621,"y":0.08},{"p":"b3","s":"16%","E":631,"y":0.08},{"p":"b3","s":"16%","E":640,"y":0.08},{"p":"b3","s":"16%","E":649,"y":0.08},{"p":"b3","s":"16%","E":660,"y":0.09},{"p":"b3","s":"16%","E":672,"y":0.1},{"p":"b3","s":"16%","E":679,"y":0.09},{"p":"b3","s":"16%","E":686,"y":0.08},{"p":"b3","s":"16%","E":700,"y":0.09},
{"p":"b3","s":"10%","E":48,"y":0.05},{"p":"b3","s":"10%","E":49,"y":0.0},{"p":"b3","s":"10%","E":57,"y":0.0},{"p":"b3","s":"10%","E":66,"y":0.01},{"p":"b3","s":"10%","E":76,"y":0.01},{"p":"b3","s":"10%","E":85,"y":0.02},{"p":"b3","s":"10%","E":94,"y":0.02},{"p":"b3","s":"10%","E":104,"y":0.01},{"p":"b3","s":"10%","E":113,"y":0.03},{"p":"b3","s":"10%","E":120,"y":0.02},{"p":"b3","s":"10%","E":127,"y":0.02},{"p":"b3","s":"10%","E":136,"y":0.04},{"p":"b3","s":"10%","E":145,"y":0.04},{"p":"b3","s":"10%","E":150,"y":0.02},{"p":"b3","s":"10%","E":157,"y":0.03},{"p":"b3","s":"10%","E":164,"y":0.01},{"p":"b3","s":"10%","E":171,"y":0.03},{"p":"b3","s":"10%","E":178,"y":0.03},{"p":"b3","s":"10%","E":185,"y":0.05},{"p":"b3","s":"10%","E":192,"y":0.03},{"p":"b3","s":"10%","E":201,"y":0.05},{"p":"b3","s":"10%","E":205,"y":0.01},{"p":"b3","s":"10%","E":210,"y":0.0},{"p":"b3","s":"10%","E":217,"y":0.04},{"p":"b3","s":"10%","E":224,"y":0.05},{"p":"b3","s":"10%","E":231,"y":0.03},{"p":"b3","s":"10%","E":238,"y":0.04},{"p":"b3","s":"10%","E":245,"y":0.05},{"p":"b3","s":"10%","E":252,"y":0.03},{"p":"b3","s":"10%","E":261,"y":0.06},{"p":"b3","s":"10%","E":268,"y":0.04},{"p":"b3","s":"10%","E":275,"y":0.05},{"p":"b3","s":"10%","E":282,"y":0.04},{"p":"b3","s":"10%","E":289,"y":0.06},{"p":"b3","s":"10%","E":296,"y":0.07},{"p":"b3","s":"10%","E":303,"y":0.08},{"p":"b3","s":"10%","E":307,"y":0.1},{"p":"b3","s":"10%","E":314,"y":0.06},{"p":"b3","s":"10%","E":321,"y":0.04},{"p":"b3","s":"10%","E":328,"y":0.02},{"p":"b3","s":"10%","E":335,"y":0.0},{"p":"b3","s":"10%","E":342,"y":0.03},{"p":"b3","s":"10%","E":349,"y":0.04},{"p":"b3","s":"10%","E":356,"y":0.07},{"p":"b3","s":"10%","E":363,"y":0.1},{"p":"b3","s":"10%","E":368,"y":0.07},{"p":"b3","s":"10%","E":372,"y":0.05},{"p":"b3","s":"10%","E":379,"y":0.06},{"p":"b3","s":"10%","E":386,"y":0.03},{"p":"b3","s":"10%","E":393,"y":0.02},{"p":"b3","s":"10%","E":400,"y":0.0},{"p":"b3","s":"10%","E":409,"y":0.01},{"p":"b3","s":"10%","E":418,"y":0.02},{"p":"b3","s":"10%","E":428,"y":0.02},{"p":"b3","s":"10%","E":437,"y":0.03},{"p":"b3","s":"10%","E":444,"y":0.05},{"p":"b3","s":"10%","E":450,"y":0.06},{"p":"b3","s":"10%","E":457,"y":0.08},{"p":"b3","s":"10%","E":464,"y":0.1},{"p":"b3","s":"10%","E":469,"y":0.14},{"p":"b3","s":"10%","E":474,"y":0.2},{"p":"b3","s":"10%","E":478,"y":0.28},{"p":"b3","s":"10%","E":483,"y":0.38},{"p":"b3","s":"10%","E":488,"y":0.5},{"p":"b3","s":"10%","E":492,"y":0.62},{"p":"b3","s":"10%","E":497,"y":0.74},{"p":"b3","s":"10%","E":501,"y":0.85},{"p":"b3","s":"10%","E":506,"y":0.98},{"p":"b3","s":"10%","E":509,"y":1.05},{"p":"b3","s":"10%","E":512,"y":0.95},{"p":"b3","s":"10%","E":515,"y":0.92},{"p":"b3","s":"10%","E":520,"y":0.8},{"p":"b3","s":"10%","E":525,"y":0.7},{"p":"b3","s":"10%","E":529,"y":0.6},{"p":"b3","s":"10%","E":534,"y":0.5},{"p":"b3","s":"10%","E":538,"y":0.4},{"p":"b3","s":"10%","E":543,"y":0.3},{"p":"b3","s":"10%","E":547,"y":0.22},{"p":"b3","s":"10%","E":552,"y":0.15},{"p":"b3","s":"10%","E":557,"y":0.1},{"p":"b3","s":"10%","E":561,"y":0.06},{"p":"b3","s":"10%","E":568,"y":0.04},{"p":"b3","s":"10%","E":575,"y":0.02},{"p":"b3","s":"10%","E":582,"y":0.01},{"p":"b3","s":"10%","E":589,"y":0.0},{"p":"b3","s":"10%","E":612,"y":0.0},{"p":"b3","s":"10%","E":700,"y":0.0}
],
"notes": [
{"p":"b1","E":268,"y":0.685,"t":"4-to-1\nuniform glass"},
{"p":"b2","E":334,"y":0.685,"t":"4-to-1\nPrism-PET"},
{"p":"b3","E":321,"y":0.685,"t":"9-to-1\nPrism-PET"}
]
},
"concat": [
{
 "title": {"text": "A", "anchor": "start", "frame": "bounds", "fontSize": 36, "fontWeight": "bold", "color": "#000000", "dx": 3, "dy": 36},
 "spacing": -3,
 "resolve": {"scale": {"color": "shared", "strokeDash": "shared", "strokeWidth": "shared", "x": "independent", "y": "independent"}, "legend": {"color": "shared", "strokeDash": "shared", "strokeWidth": "shared"}, "axis": {"x": "independent", "y": "independent"}},
 "hconcat": [
  {
   "width": 254, "height": 194,
   "title": {"text": "Corner SiPM", "dy": 7},
   "data": {"name": "top"},
   "transform": [{"filter": "datum.p == 'corner'"}],
   "encoding": {
     "x": {"field": "x", "type": "quantitative", "scale": {"domain": [1.5, 3.31], "nice": false, "zero": false}, "axis": {"values": [1.5, 2, 2.5, 3], "labelExpr": "datum.value == 1.5 ? '0' : format(datum.value, '.1f')", "title": "x (mm)", "titlePadding": 2}},
     "y": {"field": "y", "type": "quantitative", "scale": {"domain": [0, 1], "nice": false}, "axis": {"values": [0, 0.2, 0.4, 0.6, 0.8, 1], "labelExpr": "datum.value == 0 ? '0' : format(datum.value, '.1f')", "title": "Counts", "titlePadding": 9}}
   },
   "layer": [
     {"transform": [{"filter": "datum.s == '9-to-1 Prism-PET'"}], "mark": {"type": "area", "color": "#f6f6f6"}, "encoding": {}},
     {"mark": "line", "encoding": {
       "color": {"field": "s", "type": "nominal", "scale": {"domain": ["4-to-1 uniform glass", "4-to-1 Prism-PET", "9-to-1 Prism-PET"], "range": ["#1e8c32", "#f28e1c", "#1a68b6"]},
         "legend": {"orient": "none", "legendX": 25, "legendY": -53, "direction": "horizontal", "columns": 3, "symbolType": "M0,0H10", "symbolSize": 121, "labelFontSize": 17, "labelFontWeight": {"expr": "datum.label == '4-to-1 uniform glass' ? 'normal' : 'bold'"}, "labelOffset": 61, "columnPadding": 14, "padding": 6, "strokeColor": "#555555", "fillColor": "white"}},
       "strokeDash": {"field": "s", "type": "nominal", "scale": {"domain": ["4-to-1 uniform glass", "4-to-1 Prism-PET", "9-to-1 Prism-PET"], "range": [[2.5, 2], [10, 7], [1, 0]]}},
       "strokeWidth": {"field": "s", "type": "nominal", "scale": {"type": "ordinal", "domain": ["4-to-1 uniform glass", "4-to-1 Prism-PET", "9-to-1 Prism-PET"], "range": [3, 2.6, 3.2]}}
     }}
   ]
  },
  {
   "width": 255, "height": 194,
   "title": "Edge SiPM",
   "data": {"name": "top"},
   "transform": [{"filter": "datum.p == 'edge'"}],
   "encoding": {
     "x": {"field": "x", "type": "quantitative", "scale": {"domain": [1.5, 3.32], "nice": false, "zero": false}, "axis": {"values": [1.5, 2, 2.5, 3], "format": ".1f", "title": "x (mm)", "titlePadding": 2}},
     "y": {"field": "y", "type": "quantitative", "scale": {"domain": [0, 1], "nice": false}, "axis": {"values": [0, 0.2, 0.4, 0.6, 0.8, 1], "labels": false, "title": null}}
   },
   "layer": [
     {"transform": [{"filter": "datum.s == '9-to-1 Prism-PET'"}], "mark": {"type": "area", "color": "#f6f6f6"}, "encoding": {}},
     {"mark": {"type": "line", "clip": true}, "encoding": {
       "color": {"field": "s", "type": "nominal", "scale": {"domain": ["4-to-1 uniform glass", "4-to-1 Prism-PET", "9-to-1 Prism-PET"], "range": ["#1e8c32", "#f28e1c", "#1a68b6"]}},
       "strokeDash": {"field": "s", "type": "nominal", "scale": {"domain": ["4-to-1 uniform glass", "4-to-1 Prism-PET", "9-to-1 Prism-PET"], "range": [[2.5, 2], [10, 7], [1, 0]]}},
       "strokeWidth": {"field": "s", "type": "nominal", "scale": {"type": "ordinal", "domain": ["4-to-1 uniform glass", "4-to-1 Prism-PET", "9-to-1 Prism-PET"], "range": [3, 2.6, 3.2]}}
     }}
   ]
  },
  {
   "width": 254, "height": 194,
   "title": "Center SiPM",
   "data": {"name": "top"},
   "transform": [{"filter": "datum.p == 'center'"}],
   "encoding": {
     "x": {"field": "x", "type": "quantitative", "scale": {"domain": [3.0, 6.2], "nice": false, "zero": false}, "axis": {"values": [3, 4, 5, 6], "format": ".1f", "title": "x (mm)", "titlePadding": 2}},
     "y": {"field": "y", "type": "quantitative", "scale": {"domain": [0, 1], "nice": false}, "axis": {"values": [0, 0.2, 0.4, 0.6, 0.8, 1], "labels": false, "title": null}}
   },
   "layer": [
     {"transform": [{"filter": "datum.s == '9-to-1 Prism-PET'"}], "mark": {"type": "area", "color": "#f6f6f6"}, "encoding": {}},
     {"mark": "line", "encoding": {
       "color": {"field": "s", "type": "nominal", "scale": {"domain": ["4-to-1 uniform glass", "4-to-1 Prism-PET", "9-to-1 Prism-PET"], "range": ["#1e8c32", "#f28e1c", "#1a68b6"]}},
       "strokeDash": {"field": "s", "type": "nominal", "scale": {"domain": ["4-to-1 uniform glass", "4-to-1 Prism-PET", "9-to-1 Prism-PET"], "range": [[2.5, 2], [10, 7], [1, 0]]}},
       "strokeWidth": {"field": "s", "type": "nominal", "scale": {"type": "ordinal", "domain": ["4-to-1 uniform glass", "4-to-1 Prism-PET", "9-to-1 Prism-PET"], "range": [3, 2.6, 3.2]}}
     }}
   ]
  }
 ]
},
{
 "title": {"text": "B", "anchor": "start", "frame": "bounds", "fontSize": 36, "fontWeight": "bold", "color": "#000000", "dx": 0, "dy": 16},
 "spacing": -1,
 "resolve": {"scale": {"color": "independent", "strokeDash": "independent", "strokeWidth": "independent", "x": "independent", "y": "independent"}, "legend": {"color": "independent", "strokeDash": "independent", "strokeWidth": "independent"}, "axis": {"x": "independent", "y": "independent"}},
 "hconcat": [
  {
   "width": 251, "height": 231,
   "encoding": {
     "x": {"field": "E", "type": "quantitative", "scale": {"domain": [0, 700], "nice": false}, "axis": {"values": [0, 200, 400, 600], "title": "E (keV)", "labelFontSize": 14, "titlePadding": 3}},
     "y": {"field": "y", "type": "quantitative", "scale": {"domain": [0, 1.1], "nice": false}, "axis": {"values": [0, 0.2, 0.4, 0.6, 0.8, 1], "labelExpr": "datum.value == 0 ? '0' : format(datum.value, '.1f')", "title": "Counts", "labelFontSize": 14, "titlePadding": 9}}
   },
   "layer": [
     {"data": {"name": "bottom"}, "transform": [{"filter": "datum.p == 'b1'"}], "mark": "line", "encoding": {
       "color": {"field": "s", "type": "nominal", "scale": {"domain": ["20%", "13%"], "range": ["#1e8c32", "#333333"]},
         "legend": {"orient": "top-left", "offset": 5, "symbolType": "M-1,0H5", "symbolSize": 100, "labelFontSize": 15, "labelOffset": 22, "padding": 3, "rowPadding": 5, "strokeColor": "#bbbbbb", "fillColor": "white"}},
       "strokeDash": {"field": "s", "type": "nominal", "scale": {"domain": ["20%", "13%"], "range": [[3, 2.5], [7, 4]]}},
       "strokeWidth": {"field": "s", "type": "nominal", "scale": {"type": "ordinal", "domain": ["20%", "13%"], "range": [3.6, 1.2]}}
     }},
     {"data": {"name": "notes"}, "transform": [{"filter": "datum.p == 'b1'"}], "mark": {"type": "text", "lineBreak": "\n", "fontSize": 16, "lineHeight": 18, "color": "#111111", "baseline": "middle"}, "encoding": {"text": {"field": "t"}}}
   ]
  },
  {
   "width": 252, "height": 231,
   "encoding": {
     "x": {"field": "E", "type": "quantitative", "scale": {"domain": [0, 700], "nice": false}, "axis": {"values": [0, 200, 400, 600], "title": "E (keV)", "labelFontSize": 14, "titlePadding": 3}},
     "y": {"field": "y", "type": "quantitative", "scale": {"domain": [0, 1.1], "nice": false}, "axis": {"values": [0, 0.2, 0.4, 0.6, 0.8, 1], "labels": false, "title": null}}
   },
   "layer": [
     {"data": {"name": "bottom"}, "transform": [{"filter": "datum.p == 'b2'"}], "mark": "line", "encoding": {
       "color": {"field": "s", "type": "nominal", "scale": {"domain": ["14%", "9%"], "range": ["#f28e1c", "#333333"]},
         "legend": {"orient": "top-left", "offset": 5, "symbolType": "M-1,0H5", "symbolSize": 100, "labelFontSize": 15, "labelOffset": 22, "padding": 3, "rowPadding": 5, "strokeColor": "#bbbbbb", "fillColor": "white"}},
       "strokeDash": {"field": "s", "type": "nominal", "scale": {"domain": ["14%", "9%"], "range": [[12, 8], [7, 4]]}},
       "strokeWidth": {"field": "s", "type": "nominal", "scale": {"type": "ordinal", "domain": ["14%", "9%"], "range": [4, 1.2]}}
     }},
     {"data": {"name": "notes"}, "transform": [{"filter": "datum.p == 'b2'"}], "mark": {"type": "text", "lineBreak": "\n", "fontSize": 15, "fontWeight": "bold", "lineHeight": 18, "color": "#111111", "baseline": "middle"}, "encoding": {"text": {"field": "t"}}}
   ]
  },
  {
   "width": 252, "height": 231,
   "encoding": {
     "x": {"field": "E", "type": "quantitative", "scale": {"domain": [0, 700], "nice": false}, "axis": {"values": [0, 200, 400, 600], "title": "E (keV)", "labelFontSize": 14, "titlePadding": 3}},
     "y": {"field": "y", "type": "quantitative", "scale": {"domain": [0, 1.1], "nice": false}, "axis": {"values": [0, 0.2, 0.4, 0.6, 0.8, 1], "labels": false, "title": null}}
   },
   "layer": [
     {"data": {"name": "bottom"}, "transform": [{"filter": "datum.p == 'b3'"}], "mark": "line", "encoding": {
       "color": {"field": "s", "type": "nominal", "scale": {"domain": ["16%", "10%"], "range": ["#1a68b6", "#333333"]},
         "legend": {"orient": "top-left", "offset": 5, "symbolType": "M-1,0H5", "symbolSize": 100, "labelFontSize": 15, "labelOffset": 22, "padding": 3, "rowPadding": 5, "strokeColor": "#bbbbbb", "fillColor": "white"}},
       "strokeDash": {"field": "s", "type": "nominal", "scale": {"domain": ["16%", "10%"], "range": [[1, 0], [7, 4]]}},
       "strokeWidth": {"field": "s", "type": "nominal", "scale": {"type": "ordinal", "domain": ["16%", "10%"], "range": [3.2, 1.2]}}
     }},
     {"data": {"name": "notes"}, "transform": [{"filter": "datum.p == 'b3'"}], "mark": {"type": "text", "lineBreak": "\n", "fontSize": 15, "fontWeight": "bold", "lineHeight": 18, "color": "#111111", "baseline": "middle"}, "encoding": {"text": {"field": "t"}}}
   ]
  }
 ]
}
]
}
